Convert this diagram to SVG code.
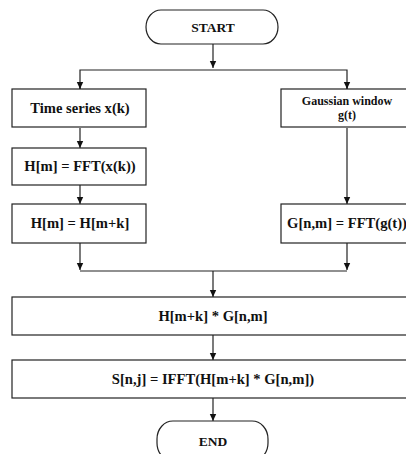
<svg xmlns="http://www.w3.org/2000/svg" width="406" height="454" viewBox="0 0 406 454">
<style>
.box{fill:#fff;stroke:#222;stroke-width:1.2}
.t{font-family:"Liberation Serif","Times New Roman",serif;font-weight:bold;font-size:14.6px;fill:#111;text-anchor:middle}
.s{font-size:12px}
.c{fill:none;stroke:#222;stroke-width:1.2}
</style>
<defs>
<marker id="ah" markerWidth="8" markerHeight="8" refX="7" refY="4" orient="auto" markerUnits="userSpaceOnUse">
<path d="M0,0.8 L7,4 L0,7.2 Z" fill="#111"/>
</marker>
</defs>
<rect width="406" height="454" fill="#fff"/>
<g id="connectors">
<path class="c" d="M213,44 V68" marker-end="url(#ah)"/>
<path class="c" d="M80,89 V70 H347 V89" />
<path class="c" d="M80,82 V89" marker-end="url(#ah)"/>
<path class="c" d="M347,82 V89" marker-end="url(#ah)"/>
<path class="c" d="M80,128 V148" marker-end="url(#ah)"/>
<path class="c" d="M80,185 V204" marker-end="url(#ah)"/>
<path class="c" d="M347,128 V204" marker-end="url(#ah)"/>
<path class="c" d="M80,243 V270" marker-end="url(#ah)"/>
<path class="c" d="M347,243 V270" marker-end="url(#ah)"/>
<path class="c" d="M80,271 H347"/>
<path class="c" d="M213,271 V297" marker-end="url(#ah)"/>
<path class="c" d="M213,335 V360" marker-end="url(#ah)"/>
<path class="c" d="M213,398 V421" marker-end="url(#ah)"/>
</g>
<g id="start">
<rect class="box" x="146" y="10" width="132" height="34" rx="15" ry="17"/>
<text class="t" x="213" y="32" style="font-size:13.5px">START</text>
</g>
<g id="timeseries">
<rect class="box" x="12" y="89" width="134" height="38"/>
<text class="t" x="80" y="113">Time series x(k)</text>
</g>
<g id="gaussian">
<rect class="box" x="281" y="89" width="132" height="38"/>
<text class="t s" x="347" y="105">Gaussian window</text>
<text class="t s" x="347" y="119">g(t)</text>
</g>
<g id="fftx">
<rect class="box" x="12" y="148" width="134" height="37"/>
<text class="t" x="80" y="171">H[m] = FFT(x(k))</text>
</g>
<g id="hmk">
<rect class="box" x="12" y="204" width="134" height="39"/>
<text class="t" x="80" y="228">H[m] = H[m+k]</text>
</g>
<g id="fftg">
<rect class="box" x="281" y="204" width="132" height="39"/>
<text class="t" x="347" y="228">G[n,m] = FFT(g(t))</text>
</g>
<g id="product">
<rect class="box" x="12" y="297" width="403" height="38"/>
<text class="t" x="213" y="321">H[m+k] * G[n,m]</text>
</g>
<g id="ifft">
<rect class="box" x="12" y="360" width="403" height="38"/>
<text class="t" x="213" y="384">S[n,j] = IFFT(H[m+k] * G[n,m])</text>
</g>
<g id="end">
<rect class="box" x="157" y="421" width="111" height="40" rx="16" ry="18"/>
<text class="t" x="213" y="446" style="font-size:13.5px">END</text>
</g>
</svg>
